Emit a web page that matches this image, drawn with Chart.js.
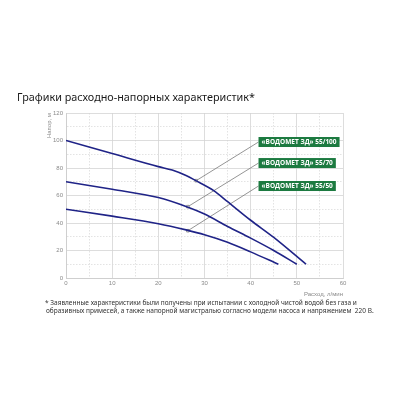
<!DOCTYPE html>
<html>
<head>
<meta charset="utf-8">
<script src="https://cdn.jsdelivr.net/npm/chart.js@4"></script>
<style>
  body { margin: 0; background: #fff; }
  #pumpCanvas { display: block; }
</style>
</head>
<body>
<canvas id="pumpCanvas" width="400" height="400" style="width:400px;height:400px"></canvas>
<script>
// pump curves
var seriesNames = ['«ВОДОМЕТ ЗД» 55/100', '«ВОДОМЕТ ЗД» 55/70', '«ВОДОМЕТ ЗД» 55/50'];
var flow100 = [0, 10, 20, 23, 26, 28, 32, 35, 40, 45, 52];
var head100 = [100, 90.5, 81, 78.5, 74.5, 71, 63.5, 55.5, 42, 29.5, 10];
var flow70 = [0, 10, 20, 26, 30, 35, 40, 45, 50];
var head70 = [70, 64.5, 58.5, 52, 46.5, 37.5, 29, 20, 10];
var flow50 = [0, 10, 20, 26, 30, 35, 40, 46];
var head50 = [50, 45, 39.5, 35, 31.5, 26, 19, 10];

// leader lines: marker on curve -> label box
var markerFlow = [28.2, 26.4, 26.4];
var markerHead = [70.8, 51.9, 34.4];
var labelFlow = [41.7, 41.7, 41.7];
var labelHead = [98.9, 83.6, 66.9];

var xTicks = [0, 10, 20, 30, 40, 50, 60];
var yTicks = [0, 20, 40, 60, 80, 100, 120];

var titleText = 'Графики расходно-напорных характеристик*';
var noteLines = [
  '* Заявленные характеристики были получены при испытании с холодной чистой водой без газа и',
  'образивных примесей, а также напорной магистралью согласно модели насоса и напряжением  220 В.'
];

function pts(xs, ys) {
  return xs.map(function (x, i) { return { x: x, y: ys[i] }; });
}

var curveColor = '#1f2387';
var curves = [[flow100, head100], [flow70, head70], [flow50, head50]].map(function (c, i) {
  return {
    label: seriesNames[i],
    data: pts(c[0], c[1]),
    borderColor: curveColor,
    borderWidth: 1.6,
    pointRadius: 0,
    cubicInterpolationMode: 'monotone',
    fill: false
  };
});

var leaders = seriesNames.map(function (name, i) {
  return {
    label: 'leader ' + i,
    data: [{ x: markerFlow[i], y: markerHead[i] }, { x: labelFlow[i], y: labelHead[i] }],
    borderColor: '#7a7a7a',
    borderWidth: 0.8,
    pointRadius: [1.8, 0],
    pointStyle: 'rect',
    pointBackgroundColor: '#fff',
    pointBorderColor: '#7a7a7a',
    pointBorderWidth: 0.8,
    fill: false
  };
});

var textPlugin = {
  id: 'pageText',
  afterDraw: function (chart) {
    var ctx = chart.ctx;
    var xs = chart.scales.x, ys = chart.scales.y;
    ctx.save();
    // title
    ctx.fillStyle = '#1a1a1a';
    ctx.font = '10.8px "Noto Sans"';
    ctx.textBaseline = 'middle';
    ctx.textAlign = 'left';
    ctx.fillText(titleText, 17, 98);
    // footnote
    ctx.fillStyle = '#333';
    ctx.font = '6.5px "Noto Sans"';
    ctx.fillText(noteLines[0], 45, 303);
    ctx.fillText(noteLines[1], 46, 311);
    // green labels
    ctx.font = 'bold 6.5px "Open Sans"';
    for (var i = 0; i < seriesNames.length; i++) {
      var px = xs.getPixelForValue(labelFlow[i]);
      var py = ys.getPixelForValue(labelHead[i]);
      var w = ctx.measureText(seriesNames[i]).width + 6;
      ctx.fillStyle = '#1c7a40';
      ctx.fillRect(px, py - 5, w, 10);
      ctx.fillStyle = '#fff';
      ctx.fillText(seriesNames[i], px + 3, py + 0.5);
    }
    ctx.restore();
  }
};

var context = document.getElementById('pumpCanvas');

new Chart(context, {
  type: 'line',
  data: { datasets: curves.concat(leaders) },
  options: {
    responsive: false,
    animation: false,
    layout: { padding: { left: 40, right: 57, top: 113, bottom: 102 } },
    plugins: { legend: { display: false }, tooltip: { enabled: false } },
    scales: {
      x: {
        type: 'linear',
        min: 0,
        max: 60,
        afterFit: function (s) { s.height = 20; },
        ticks: {
          stepSize: 5,
          color: '#8a8a8a',
          font: { size: 6 },
          padding: 2,
          maxRotation: 0,
          callback: function (v) { return xTicks.indexOf(v) >= 0 ? v : ''; }
        },
        grid: {
          drawTicks: false,
          color: function (c) { return c.tick && c.tick.value % 10 === 0 ? '#d4d4d4' : '#dcdcdc'; },
          lineWidth: 0.8
        },
        border: {
          color: '#cfcfcf',
          dash: function (c) { return c.tick && c.tick.value % 10 !== 0 ? [1.5, 1.5] : []; }
        },
        title: {
          display: true,
          text: 'Расход, л/мин',
          align: 'end',
          color: '#8a8a8a',
          font: { size: 6 },
          padding: { top: 5, bottom: 0 }
        }
      },
      y: {
        min: 0,
        max: 120,
        afterFit: function (s) { s.width = 26; },
        ticks: {
          stepSize: 10,
          color: '#8a8a8a',
          font: { size: 6 },
          padding: 3,
          callback: function (v) { return yTicks.indexOf(v) >= 0 ? v : ''; }
        },
        grid: {
          drawTicks: false,
          color: function (c) { return c.tick && c.tick.value % 20 === 0 ? '#d4d4d4' : '#dcdcdc'; },
          lineWidth: 0.8
        },
        border: {
          color: '#cfcfcf',
          dash: function (c) { return c.tick && c.tick.value % 20 !== 0 ? [1.5, 1.5] : []; }
        },
        title: {
          display: true,
          text: 'Напор, м',
          align: 'end',
          color: '#8a8a8a',
          font: { size: 6 },
          padding: { top: 6, bottom: 0 }
        }
      }
    }
  },
  plugins: [textPlugin]
});
</script>
</body>
</html>
